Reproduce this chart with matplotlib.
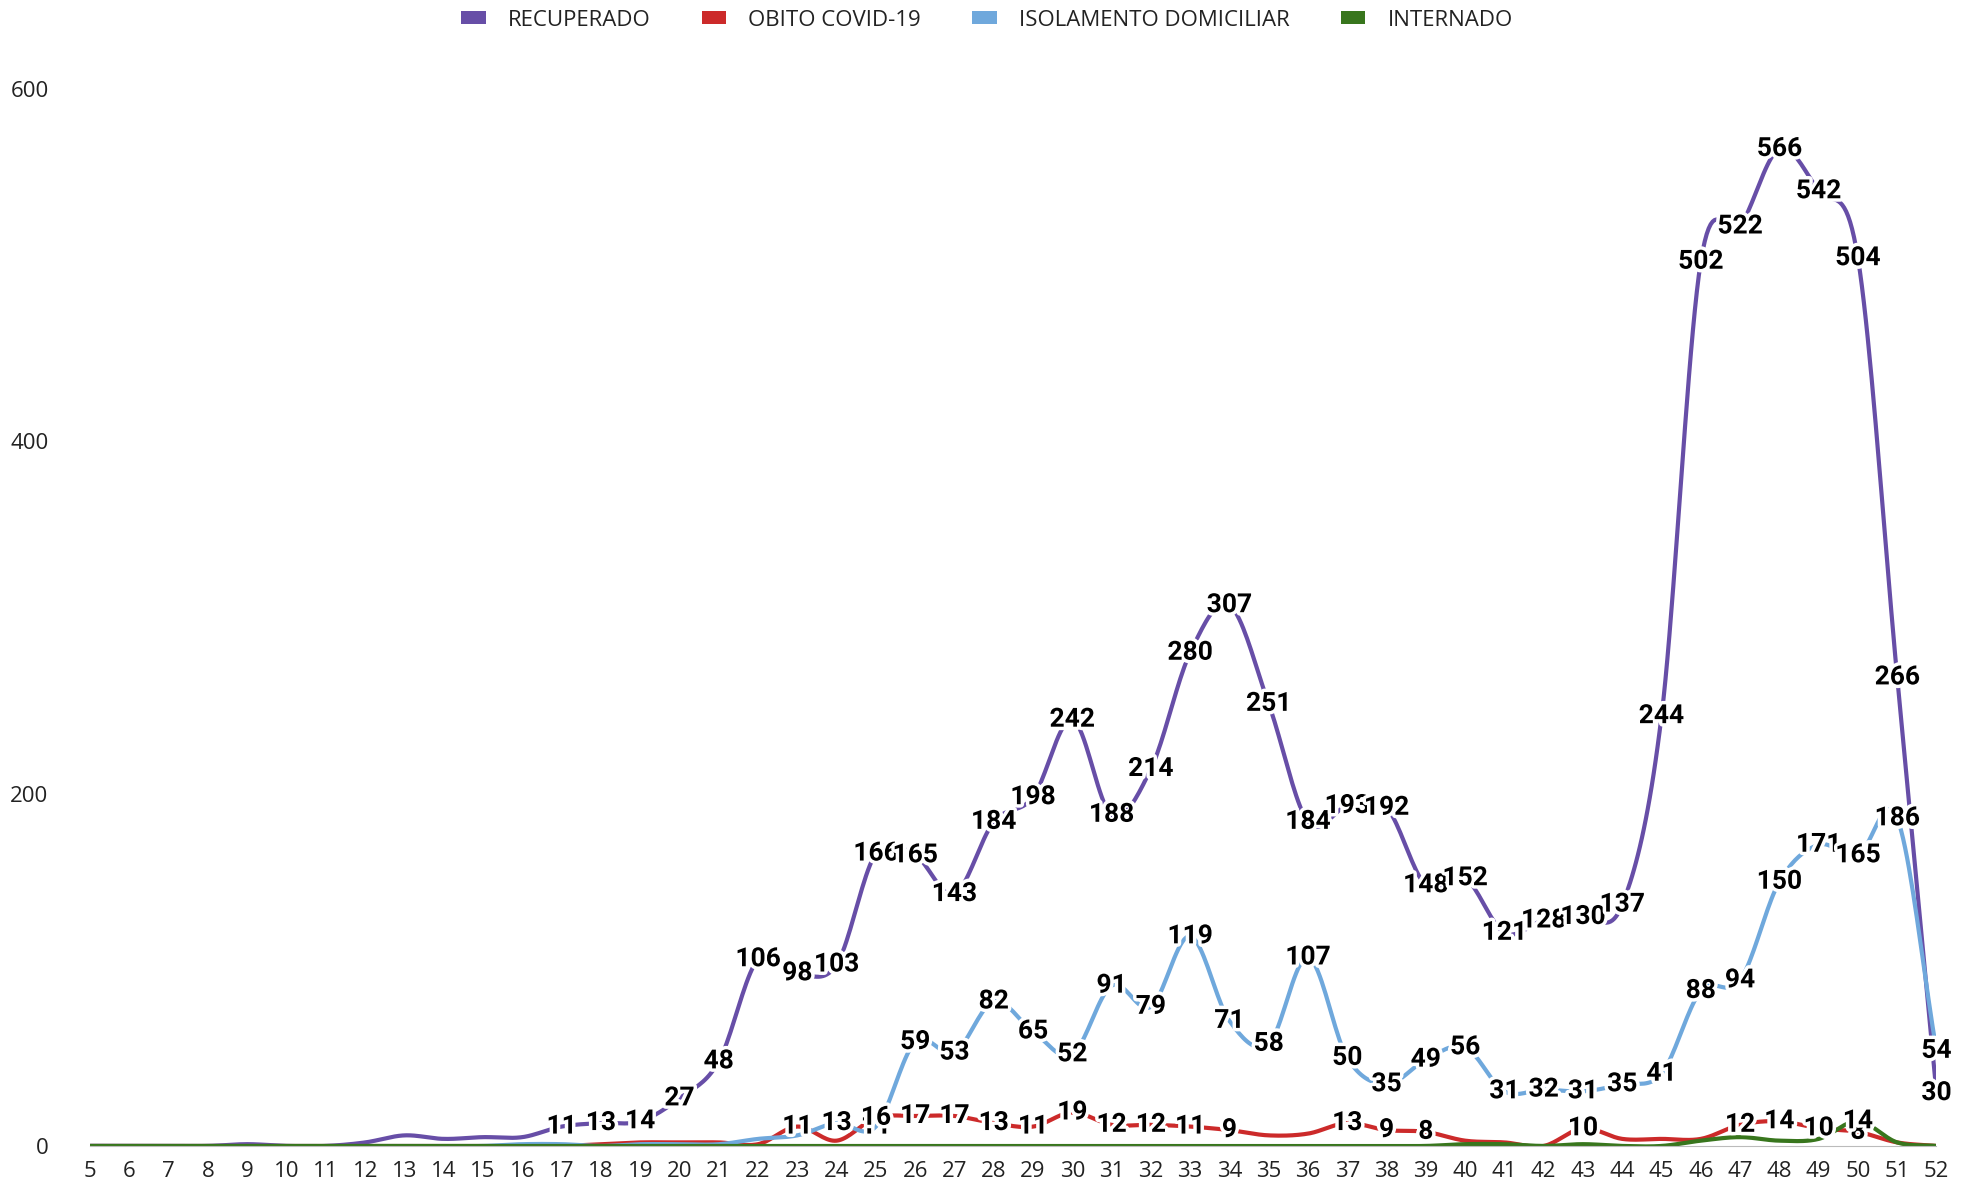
import numpy as np
import matplotlib.pyplot as plt
import matplotlib.patheffects as pe
from matplotlib.patches import Patch

semanas = list(range(5, 53))

recuperado = [0, 0, 0, 0, 1, 0, 0, 2, 6, 4, 5, 5, 11, 13, 14, 27, 48, 106, 98, 103,
              166, 165, 143, 184, 198, 242, 188, 214, 280, 307, 251, 184, 193, 192,
              148, 152, 121, 128, 130, 137, 244, 502, 522, 566, 542, 504, 266, 30]
obito = [0, 0, 0, 0, 0, 0, 0, 0, 0, 0, 0, 0, 0, 1, 2, 2, 2, 1, 11, 3,
         16, 17, 17, 13, 11, 19, 12, 12, 11, 9, 6, 7, 13, 9,
         8, 3, 2, 0, 10, 4, 4, 4, 12, 14, 10, 8, 2, 0]
isolamento = [0, 0, 0, 0, 0, 0, 0, 0, 0, 0, 0, 1, 1, 0, 1, 1, 1, 4, 6, 13,
              11, 59, 53, 82, 65, 52, 91, 79, 119, 71, 58, 107, 50, 35,
              49, 56, 31, 32, 31, 35, 41, 88, 94, 150, 171, 165, 186, 54]
internado = [0, 0, 0, 0, 0, 0, 0, 0, 0, 0, 0, 0, 0, 0, 0, 0, 0, 0, 0, 0,
             0, 0, 0, 0, 0, 0, 0, 0, 0, 0, 0, 0, 0, 0,
             0, 1, 1, 0, 1, 0, 0, 3, 5, 3, 4, 14, 2, 0]

series = [
    ("RECUPERADO", recuperado, "#674ea7"),
    ("OBITO COVID-19", obito, "#cc2a2a"),
    ("ISOLAMENTO DOMICILIAR", isolamento, "#6fa8dc"),
    ("INTERNADO", internado, "#38761d"),
]


def suavizar(x, y, n=20):
    # curva suave tipo Catmull-Rom passando pelos pontos
    x = np.asarray(x, float)
    y = np.asarray(y, float)
    m = np.zeros_like(y)
    m[1:-1] = (y[2:] - y[:-2]) / 2
    m[0] = y[1] - y[0]
    m[-1] = y[-1] - y[-2]
    xs, ys = [], []
    for i in range(len(x) - 1):
        t = np.linspace(0, 1, n, endpoint=False)
        h00 = 2*t**3 - 3*t**2 + 1
        h10 = t**3 - 2*t**2 + t
        h01 = -2*t**3 + 3*t**2
        h11 = t**3 - t**2
        xs.append(x[i] + t*(x[i+1] - x[i]))
        ys.append(h00*y[i] + h10*m[i] + h01*y[i+1] + h11*m[i+1])
    xs.append([x[-1]])
    ys.append([y[-1]])
    return np.concatenate(xs), np.concatenate(ys)


plt.rcParams['font.family'] = ['Open Sans', 'DejaVu Sans']

fig = plt.figure(figsize=(19.62, 11.88), dpi=100)
ax = fig.add_axes([0.046, 0.0354, 0.941, 0.8896])

for nome, vals, cor in series:
    xs, ys = suavizar(semanas, vals)
    ax.plot(xs, ys, color=cor, lw=3, solid_capstyle='round')

# rótulos dos valores
contorno = [pe.withStroke(linewidth=5, foreground='white')]
for idx in [0, 2, 1, 3]:
    nome, vals, cor = series[idx]
    for s, v in zip(semanas, vals):
        if v >= 8:
            ax.text(s, v, str(v), ha='center', va='center', fontsize=19,
                    fontweight='bold', family='Roboto', color='black',
                    path_effects=contorno, zorder=5)

ax.set_xlim(5, 52)
ax.set_ylim(0, 600)
ax.set_xticks(semanas)
ax.set_yticks([0, 200, 400, 600])
ax.tick_params(axis='both', length=0, labelsize=16, colors='#222222')
ax.tick_params(axis='y', pad=30)
ax.tick_params(axis='x', pad=11)
for lado in ['top', 'right', 'left']:
    ax.spines[lado].set_visible(False)
ax.spines['bottom'].set_color('#bbbbbb')

handles = [Patch(facecolor=cor, edgecolor='none') for _, _, cor in series]
fig.legend(handles, [s[0] for s in series], loc='center', ncol=4,
           bbox_to_anchor=(0.503, 0.983), frameon=False, fontsize=16,
           labelcolor='#222222', handlelength=1.1, handleheight=0.5,
           handletextpad=1.0, columnspacing=2.3)

fig.savefig('out.png', dpi=100)
